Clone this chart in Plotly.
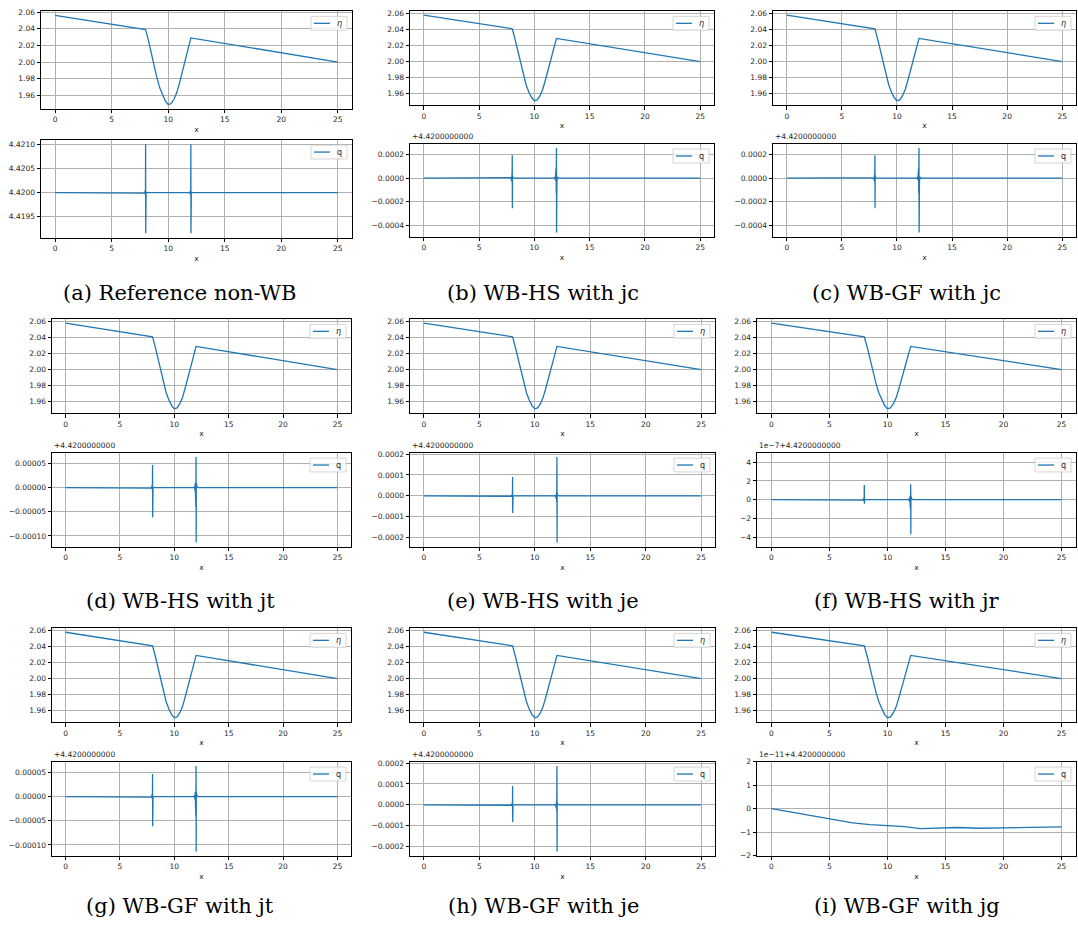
import plotly.graph_objects as go

W, H = 1078, 938

# ---------------- data ----------------
x_ticks = [0, 5, 10, 15, 20, 25]

# free surface eta(x)
x_eta = [0, 8.0, 8.25, 8.5, 8.75, 9.0, 9.25, 9.5, 9.75, 10.0, 10.25, 10.5,
         10.75, 11.0, 11.25, 11.5, 11.75, 12.0, 25]
eta_ref = [2.056, 2.039, 2.026, 2.011, 1.995, 1.981, 1.969, 1.960, 1.953, 1.949,
           1.950, 1.955, 1.963, 1.975, 1.988, 2.001, 2.015, 2.029, 2.000]
eta_wb = [2.058, 2.041, 2.028, 2.013, 1.997, 1.983, 1.971, 1.962, 1.955, 1.951,
          1.952, 1.957, 1.965, 1.977, 1.989, 2.002, 2.016, 2.029, 2.000]

# discharge q(x): sample positions (dense around the bump edges x=8 and x=12)
x_q = [0, 7.80, 7.86, 7.90, 7.93, 7.95, 7.97, 7.98, 7.99, 8.00, 8.01, 8.02, 8.04, 8.08, 8.20,
       11.80, 11.86, 11.90, 11.93, 11.95, 11.97, 11.98, 11.99, 12.00, 12.01, 12.02, 12.04, 12.08, 12.20, 25]

# (a) reference non-WB: absolute q values
q_ref = [4.42, 4.42, 4.420005, 4.41999, 4.420015, 4.419975, 4.42004, 4.419955, 4.420055, 4.4210,
         4.41916, 4.42003, 4.419985, 4.420005, 4.42,
         4.42, 4.420005, 4.41999, 4.420015, 4.419975, 4.42004, 4.419955, 4.420055, 4.4210,
         4.41916, 4.42003, 4.419985, 4.420005, 4.42, 4.42]
# the following are q - 4.42, as shown by the offset axes
q_jc = [0, 0, 0.000005, -0.000008, 0.000015, -0.00002, 0.00003, -0.000035, 0.00004, 0.000195,
        -0.000256, 0.00002, -0.00001, 0.000003, 0,
        0, 0.00001, -0.00002, 0.00004, -0.00006, 0.00009, -0.00013, 0.00008, 0.000258,
        -0.000464, 0.00005, -0.00003, 0.00001, 0, 0]
q_jt = [0, 0, 0.0000005, -0.000001, 0.000002, -0.000003, 0.000005, -0.000006, 0.000007, 0.0000466,
        -0.0000615, 0.000003, -0.0000015, 0.0000005, 0,
        0, 0.000003, -0.000006, 0.00001, -0.000018, 0.000028, -0.00004, 0.000036, 0.0000635,
        -0.0001135, 0.00001, -0.000005, 0.000002, 0, 0]
q_je = [0, 0, 0.000001, -0.000002, 0.000003, -0.000005, 0.000007, -0.00001, 0.00001, 0.00009,
        -0.000082, 0.000005, -0.000002, 0.000001, 0,
        0, 0.000003, -0.000006, 0.00001, -0.000015, 0.00002, -0.00003, 0.00003, 0.000186,
        -0.000223, 0.00001, -0.000005, 0.000002, 0, 0]
# in units of 1e-7
q_jr = [0, 0, 0.02, -0.04, 0.06, -0.1, 0.15, -0.2, 0.2, 1.56, -0.42, 0.1, -0.05, 0.02, 0,
        0, 0.1, -0.2, 0.35, -0.5, 0.8, -1.0, 1.1, 1.63, -3.68, 0.4, -0.2, 0.08, 0, 0]
# in units of 1e-11
x_jg = [0, 2.5, 5, 7, 8.5, 10, 11.5, 12.8, 14, 16, 18, 20, 22, 24, 25]
q_jg = [0, -0.21, -0.42, -0.60, -0.68, -0.71, -0.76, -0.85, -0.84, -0.80, -0.83, -0.81,
        -0.79, -0.80, -0.77]

captions = ["(a) Reference non-WB", "(b) WB-HS with jc", "(c) WB-GF with jc",
            "(d) WB-HS with jt", "(e) WB-HS with je", "(f) WB-HS with jr",
            "(g) WB-GF with jt", "(h) WB-GF with je", "(i) WB-GF with jg"]

# ---------------- layout (pixel boxes) ----------------
# left, right, eta_top, eta_bottom, q_top, q_bottom, caption_cx, caption_cy
boxes = [
    (41, 352, 7, 106, 137, 236, 180, 292),
    (410, 714, 7, 102, 141, 235, 543, 292),
    (773, 1076, 7, 102, 141, 235, 906, 292),
    (52, 351, 318, 413, 453, 548, 180, 603),
    (410, 715, 318, 413, 453, 548, 543, 603),
    (757, 1076, 318, 413, 453, 548, 907, 603),
    (52, 351, 630, 725, 765, 860, 180, 911),
    (410, 715, 630, 725, 765, 860, 543, 911),
    (757, 1076, 630, 725, 765, 860, 907, 911),
]

OFF = "+4.4200000000"
panels = [
    dict(eta=eta_ref, qx=x_q, q=q_ref, dtick=0.0005, fmt=".4f", tick0=4.42, off=None, rng=None),
    dict(eta=eta_wb, qx=x_q, q=q_jc, dtick=0.0002, fmt=".4f", tick0=0, off=OFF, rng=None),
    dict(eta=eta_wb, qx=x_q, q=q_jc, dtick=0.0002, fmt=".4f", tick0=0, off=OFF, rng=None),
    dict(eta=eta_wb, qx=x_q, q=q_jt, dtick=0.00005, fmt=".5f", tick0=0, off=OFF, rng=None),
    dict(eta=eta_wb, qx=x_q, q=q_je, dtick=0.0001, fmt=".4f", tick0=0, off=OFF, rng=None),
    dict(eta=eta_wb, qx=x_q, q=q_jr, dtick=2, fmt="d", tick0=0, off="1e\u22127" + OFF, rng=[-5, 5]),
    dict(eta=eta_wb, qx=x_q, q=q_jt, dtick=0.00005, fmt=".5f", tick0=0, off=OFF, rng=None),
    dict(eta=eta_wb, qx=x_q, q=q_je, dtick=0.0001, fmt=".4f", tick0=0, off=OFF, rng=None),
    dict(eta=eta_wb, qx=x_jg, q=q_jg, dtick=1, fmt="d", tick0=0, off="1e\u221211" + OFF, rng=[-2, 2]),
]

C0 = "#1f77b4"
TXT = "#262626"
tickfont = dict(family="DejaVu Sans", size=7.5, color=TXT)
axis_common = dict(showline=True, mirror=True, linecolor="black", linewidth=1,
                   ticks="outside", ticklen=3.5, tickwidth=0.8, tickcolor="black",
                   tickfont=tickfont, showgrid=True, gridcolor="#b0b0b0", gridwidth=0.8,
                   zeroline=False)


def auto_range(v):
    lo, hi = min(v), max(v)
    pad = 0.05 * (hi - lo)
    return [lo - pad, hi + pad]


def px(x):
    return x / W


def py(y):
    return 1 - y / H


fig = go.Figure()
layout = dict(width=W, height=H, margin=dict(l=0, r=0, t=0, b=0),
              paper_bgcolor="white", plot_bgcolor="white", annotations=[], shapes=[],
              showlegend=False)

k = 0
for p, b, cap in zip(panels, boxes, captions):
    left, right, et, eb, qt, qb, cx, cy = b
    for which in ("eta", "q"):
        k += 1
        sfx = "" if k == 1 else str(k)
        top, bot = (et, eb) if which == "eta" else (qt, qb)
        if which == "eta":
            xs, ys, name = x_eta, p["eta"], "<i>\u03b7</i>"
            yr = auto_range(ys)
            yfmt = dict(dtick=0.02, tick0=1.96, tickformat=".2f")
        else:
            xs, ys, name = p["qx"], p["q"], "q"
            yr = p["rng"] if p["rng"] else auto_range(ys)
            yfmt = dict(dtick=p["dtick"], tick0=p["tick0"], tickformat=p["fmt"])
        fig.add_trace(go.Scatter(x=xs, y=ys, mode="lines", name=name,
                                 line=dict(color=C0, width=1.3),
                                 xaxis="x" + sfx, yaxis="y" + sfx))
        layout["xaxis" + sfx] = dict(domain=[px(left), px(right)], anchor="y" + sfx,
                                     range=[-1.25, 26.25], tickvals=x_ticks,
                                     title=dict(text="x", font=tickfont, standoff=3),
                                     **axis_common)
        layout["yaxis" + sfx] = dict(domain=[py(bot), py(top)], anchor="x" + sfx,
                                     range=yr, **yfmt, **axis_common)
        # compact matplotlib-style legend box (upper right)
        layout["shapes"].append(dict(type="rect", xref="paper", yref="paper",
                                     x0=px(right - 41), x1=px(right - 5),
                                     y0=py(top + 19.5), y1=py(top + 5.5),
                                     fillcolor="rgba(255,255,255,0.8)",
                                     line=dict(color="#cccccc", width=0.8)))
        layout["shapes"].append(dict(type="line", xref="paper", yref="paper",
                                     x0=px(right - 38), x1=px(right - 22),
                                     y0=py(top + 12.5), y1=py(top + 12.5),
                                     line=dict(color=C0, width=1.3)))
        layout["annotations"].append(dict(
            text=name, xref="paper", yref="paper", x=px(right - 13), y=py(top + 12.5),
            xanchor="center", yanchor="middle", showarrow=False,
            font=dict(family="DejaVu Sans", size=8, color=TXT)))
        if which == "q" and p["off"]:
            layout["annotations"].append(dict(
                text=p["off"], xref="paper", yref="paper", x=px(left), y=py(top - 1),
                xanchor="left", yanchor="bottom", showarrow=False,
                font=dict(family="DejaVu Sans", size=7.5, color=TXT)))
    layout["annotations"].append(dict(
        text=cap, xref="paper", yref="paper", x=px(cx), y=py(cy),
        xanchor="center", yanchor="middle", showarrow=False,
        font=dict(family="DejaVu Serif", size=21, color="black")))

fig.update_layout(**layout)
fig.write_html("out.html", config={"displayModeBar": False},
               post_script="document.body.style.margin='0px';document.body.style.padding='0px';")
